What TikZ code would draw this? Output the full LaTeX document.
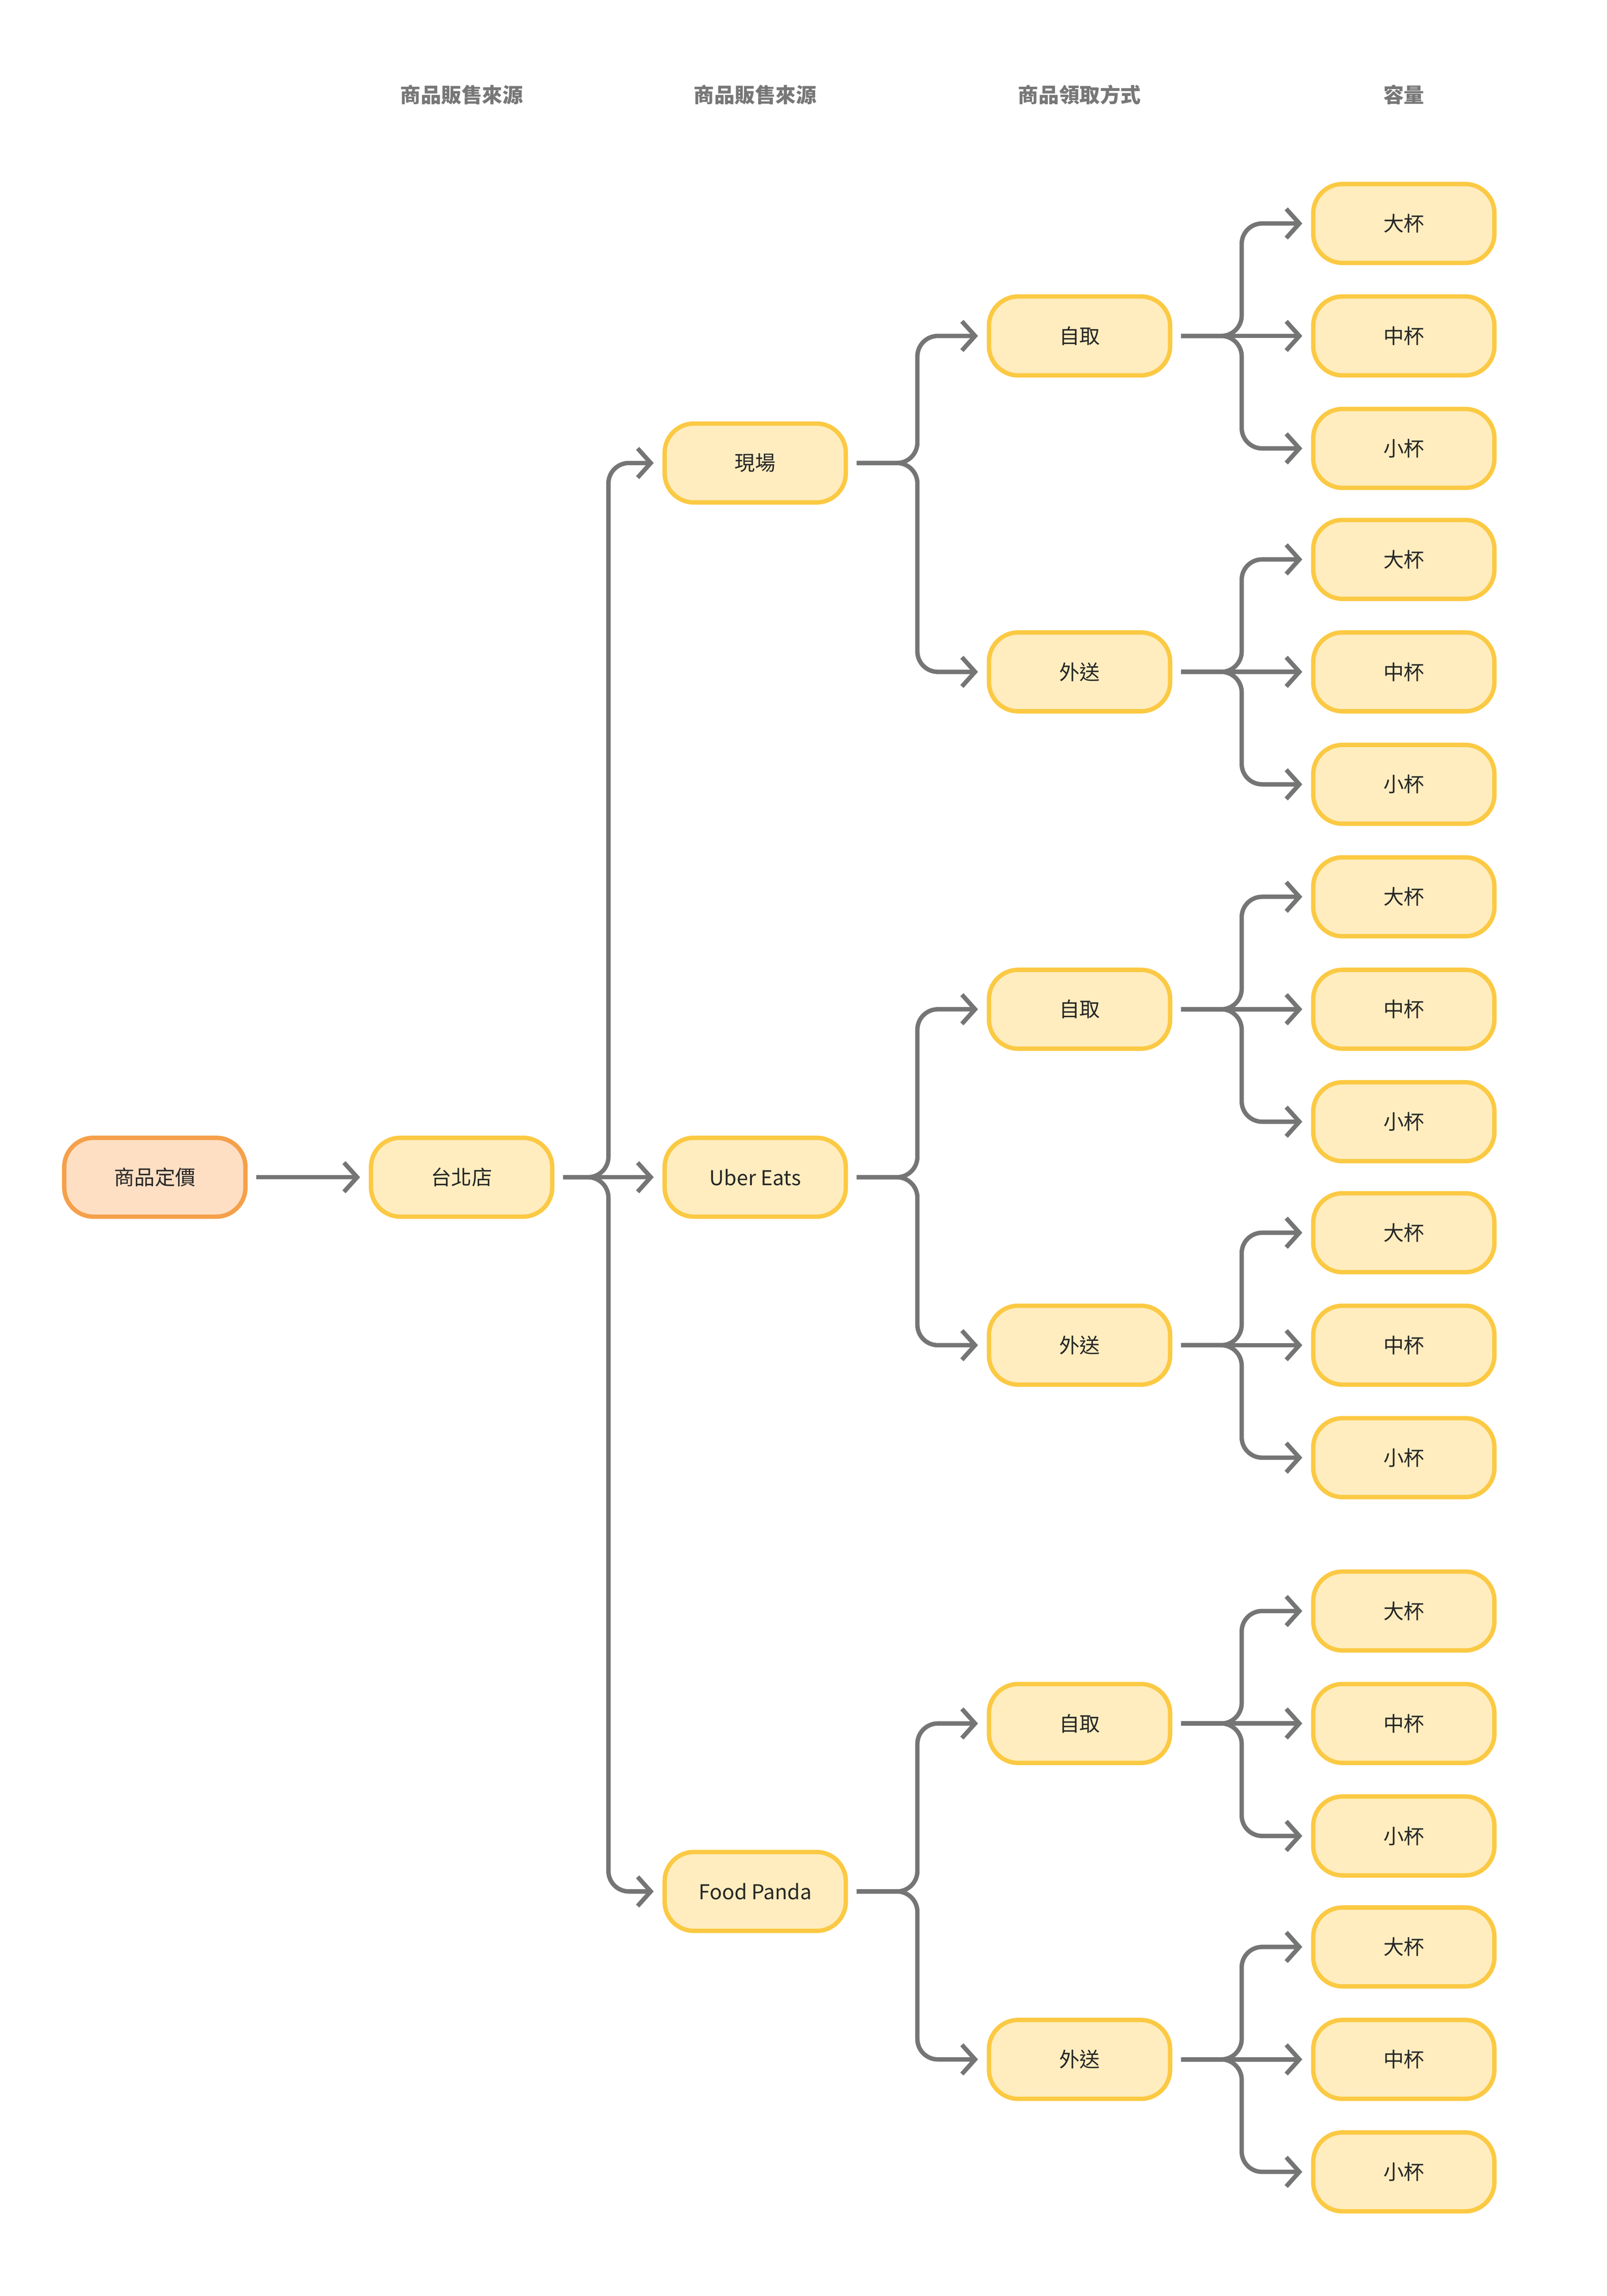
\documentclass[tikz,border=0pt]{standalone}
\usepackage{fontspec}
\setmainfont{Noto Sans CJK TC}
\usetikzlibrary{calc,positioning,arrows.meta}
\definecolor{boxfill}{HTML}{FFEDBF}
\definecolor{boxline}{HTML}{FBC943}
\definecolor{rootfill}{HTML}{FFDFC4}
\definecolor{rootline}{HTML}{F5A04A}
\definecolor{linkgray}{HTML}{757575}
\definecolor{headgray}{HTML}{777777}
\tikzset{
  box/.style={draw=boxline,fill=boxfill,line width=3pt,rounded corners=20pt,
    minimum width=124pt,minimum height=54pt,font=\fontsize{14}{16}\selectfont,text=black!85},
  root/.style={box,draw=rootline,fill=rootfill},
  head/.style={font=\fontsize{14}{16}\selectfont\bfseries,text=headgray},
  conn/.style={draw=linkgray,line width=3pt,rounded corners=14pt,
    -{Straight Barb[length=9pt,width=20pt,line width=3pt]}}
}
\newcommand\branch[2]{\draw[conn] ($(#1.east)+(6,0)$) -| ($(#1.east)!0.5!(#2.west)$) |- ($(#2.west)-(6,0)$);}
\newcommand\straight[2]{\draw[conn] ($(#1.east)+(6,0)$) -- ($(#2.west)-(6,0)$);}
\begin{document}
\begin{tikzpicture}[x=1pt,y=-1pt]
  \useasboundingbox (0,0) rectangle (1100,1572);
  % column titles
  \node[head] (h1) at (316,65) {商品販售來源};
  \node[head] (h2) at (517,65) {商品販售來源};
  \node[head] (h3) at (739,65) {商品領取方式};
  \node[head] (h4) at (961,65) {容量};
  \node[root] (price) at (106,806) {商品定價};
  \node[box] (store) at (316,806) {台北店};
  \node[box] (a) at (517,317) {現場};
  \node[box] (b) at (517,806) {Uber Eats};
  \node[box] (c) at (517,1295) {Food Panda};
  \straight{price}{store}
  \branch{store}{a}
  \straight{store}{b}
  \branch{store}{c}
  \foreach \q/\p/\y/\t in {a/a1/230/自取,a/a2/460/外送,b/b1/691/自取,b/b2/921/外送,c/c1/1180/自取,c/c2/1410/外送}{
    \node[box] (\p) at (739,\y) {\t};
    \branch{\q}{\p}
    \foreach \s/\dy/\u in {1/-77/大杯,2/0/中杯,3/77/小杯}{
      \node[box] (\p\s) at ($(\p)+(222,\dy)$) {\u};
      \ifnum\dy=0 \straight{\p}{\p\s} \else \branch{\p}{\p\s} \fi
    }
  }
\end{tikzpicture}
\end{document}
